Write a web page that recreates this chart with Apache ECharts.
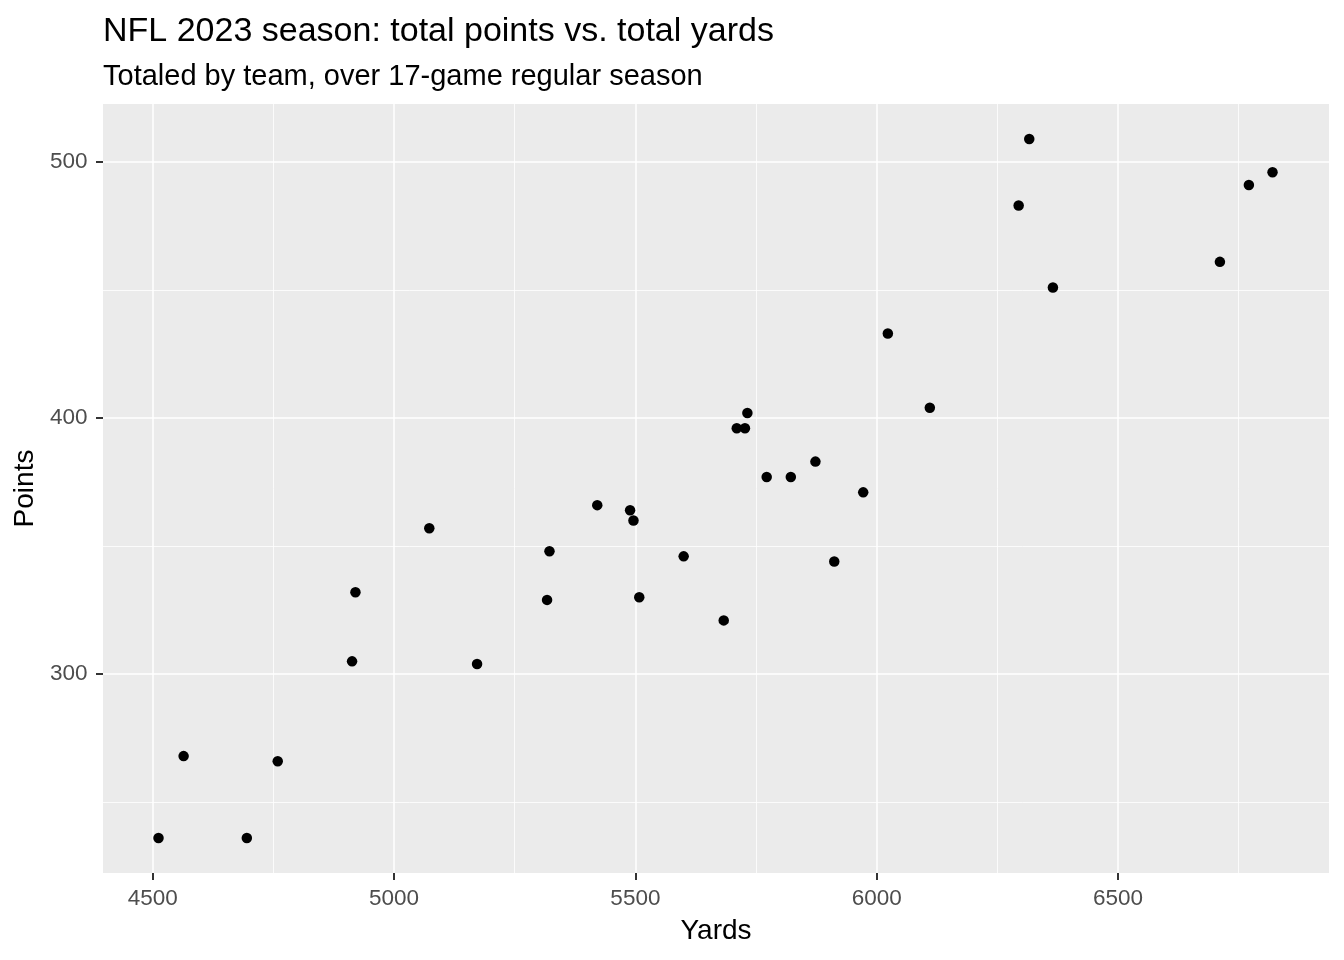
<!DOCTYPE html>
<html>
<head>
<meta charset="utf-8">
<script src="https://cdn.jsdelivr.net/npm/echarts@6/dist/echarts.min.js"></script>
<style>
html,body{margin:0;padding:0;background:#fff;}
#chart{width:1344px;height:960px;}
</style>
</head>
<body>
<div id="chart"></div>
<script>
// Team totals, NFL 2023 regular season
const yards = [4512, 4564, 4695, 4759, 4913, 4920, 5073, 5172, 5317, 5322, 5421, 5489, 5496, 5508, 5600, 5683,
               5710, 5727, 5732, 5772, 5822, 5873, 5912, 5972, 6023, 6110, 6294, 6316, 6365, 6711, 6771, 6820];
const points = [236, 268, 236, 266, 305, 332, 357, 304, 329, 348, 366, 364, 360, 330, 346, 321,
                396, 396, 402, 377, 377, 383, 344, 371, 433, 404, 483, 509, 451, 461, 491, 496];

const xMajorTicks = [4500, 5000, 5500, 6000, 6500];
const xMinorTicks = [4750, 5250, 5750, 6250, 6750];
const yMajorTicks = [300, 400, 500];
const yMinorTicks = [250, 350, 450];

const titleText = 'NFL 2023 season: total points vs. total yards';
const subtitleText = 'Totaled by team, over 17-game regular season';
const xTitle = 'Yards';
const yTitle = 'Points';

const xMin = 4397, xMax = 6937;
const yMin = 222.35, yMax = 522.65;

const FONT = '"Liberation Sans", Arial, sans-serif';
const chart = echarts.init(document.getElementById('chart'), null, {renderer: 'canvas'});

const data = yards.map((x, i) => [x, points[i]]);
const plain = v => String(v);

chart.setOption({
  animation: false,
  backgroundColor: '#ffffff',
  title: [
    {text: titleText, left: 98, top: 10,
     textStyle: {fontFamily: FONT, fontSize: 34, fontWeight: 'normal', color: '#000000'}},
    {text: subtitleText, left: 98, top: 57,
     textStyle: {fontFamily: FONT, fontSize: 29, fontWeight: 'normal', color: '#000000'}}
  ],
  grid: {
    left: 103, right: 15, top: 104, bottom: 87,
    show: true, backgroundColor: '#EBEBEB', borderWidth: 0,
    containLabel: false
  },
  xAxis: [
    {
      type: 'value', min: xMin, max: xMax, position: 'bottom',
      name: xTitle, nameLocation: 'middle', nameGap: 44,
      nameTextStyle: {fontFamily: FONT, fontSize: 28, color: '#000000'},
      axisLine: {show: false},
      axisTick: {show: true, length: 7, customValues: xMajorTicks,
                 lineStyle: {color: '#333333', width: 2}},
      axisLabel: {show: true, customValues: xMajorTicks, margin: 14, formatter: plain,
                  fontFamily: FONT, fontSize: 22.5, color: '#4D4D4D',
                  showMinLabel: true, showMaxLabel: true},
      splitLine: {show: true, lineStyle: {color: '#FFFFFF', width: 1.5}}
    },
    {
      type: 'value', min: xMin, max: xMax, position: 'top',
      axisLine: {show: false},
      axisTick: {show: false, customValues: xMinorTicks},
      axisLabel: {show: false, customValues: xMinorTicks},
      splitLine: {show: true, lineStyle: {color: '#FFFFFF', width: 0.8}}
    }
  ],
  yAxis: [
    {
      type: 'value', min: yMin, max: yMax, position: 'left',
      name: yTitle, nameLocation: 'middle', nameGap: 62, nameRotate: 90,
      nameTextStyle: {fontFamily: FONT, fontSize: 28, color: '#000000'},
      axisLine: {show: false},
      axisTick: {show: true, length: 7, customValues: yMajorTicks,
                 lineStyle: {color: '#333333', width: 2}},
      axisLabel: {show: true, customValues: yMajorTicks, margin: 15.5, formatter: plain,
                  fontFamily: FONT, fontSize: 22.5, color: '#4D4D4D'},
      splitLine: {show: true, lineStyle: {color: '#FFFFFF', width: 1.5}}
    },
    {
      type: 'value', min: yMin, max: yMax, position: 'right',
      axisLine: {show: false},
      axisTick: {show: false, customValues: yMinorTicks},
      axisLabel: {show: false, customValues: yMinorTicks},
      splitLine: {show: true, lineStyle: {color: '#FFFFFF', width: 0.8}}
    }
  ],
  series: [{
    type: 'scatter',
    xAxisIndex: 0, yAxisIndex: 0,
    data: data,
    symbol: 'circle',
    symbolSize: 10.5,
    itemStyle: {color: '#000000', opacity: 1},
    emphasis: {disabled: true}
  }]
});
</script>
</body>
</html>
